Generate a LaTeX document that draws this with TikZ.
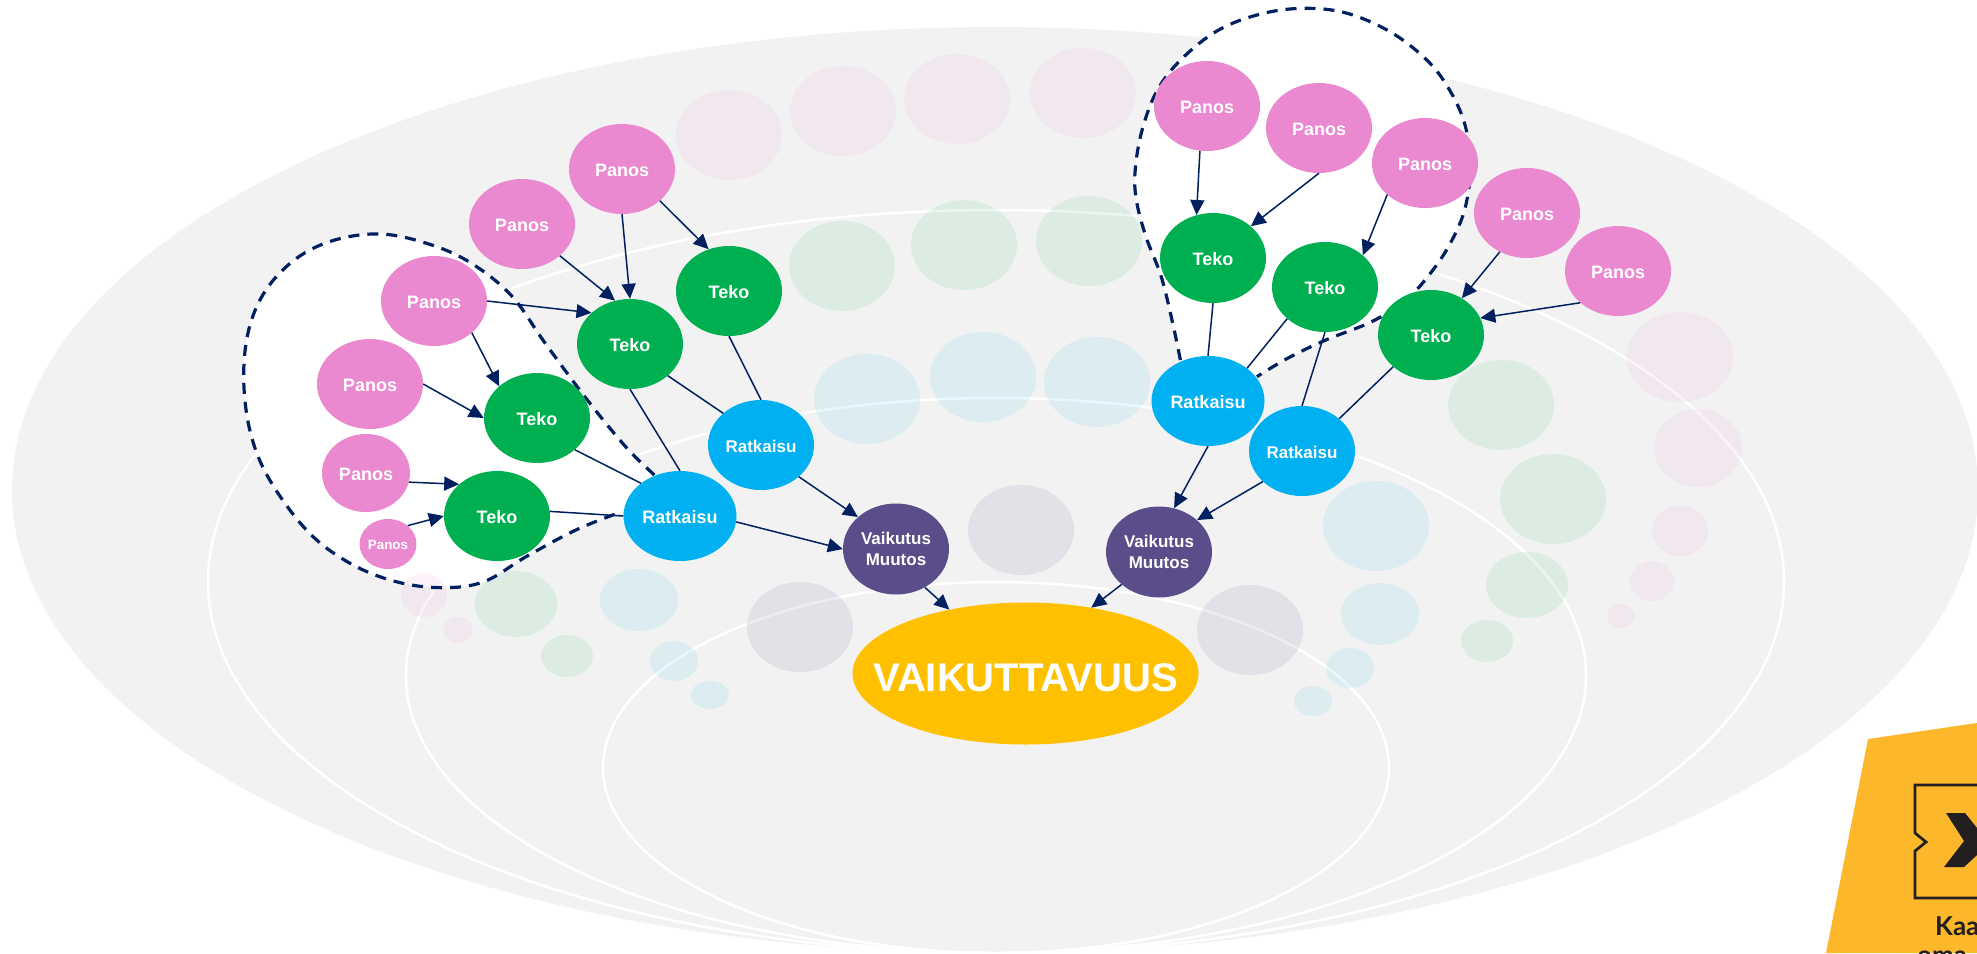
\documentclass[tikz,border=0pt]{standalone}
\usepackage{fontspec}
\setmainfont{Liberation Sans}
\newfontfamily\logofont{Lato}
\usetikzlibrary{arrows.meta,shapes.geometric}
\definecolor{bggray}{HTML}{F2F2F2}
\definecolor{cpink}{HTML}{EA88D0}
\definecolor{cgreen}{HTML}{00B050}
\definecolor{cblue}{HTML}{00B0F0}
\definecolor{cpurple}{HTML}{5B4C8A}
\definecolor{cyellow}{HTML}{FFC000}
\definecolor{navy}{HTML}{002060}
\definecolor{logoyellow}{HTML}{FDB72A}
\definecolor{logodark}{HTML}{231F20}
\tikzset{
 dot/.style={ellipse,draw=none,inner sep=0pt,text=white,font=\bfseries\fontsize{18}{22}\selectfont,align=center,minimum width=106pt,minimum height=90pt},
 one/.style={text height=15pt,text depth=0pt},
 panos/.style={dot,one,fill=cpink},
 teko/.style={dot,one,fill=cgreen},
 ratk/.style={dot,one,fill=cblue,minimum width=113pt},
 ratkb/.style={dot,one,fill=cblue,font=\bfseries\fontsize{17}{20}\selectfont},
 vaik/.style={dot,fill=cpurple,minimum width=106pt,minimum height=91pt,font=\bfseries\fontsize{17}{21}\selectfont},
 arr/.style={navy,line width=1.5pt,-{Triangle[length=15pt,width=14pt]}},
 lnk/.style={navy,line width=1.5pt},
 ring/.style={white,line width=2.5pt},
 blob/.style={navy,line width=3.2pt,dash pattern=on 11pt off 8pt},
 fadepink/.style={fill=cpink,fill opacity=.1},
 fadegreen/.style={fill=cgreen,fill opacity=.09},
 fadeblue/.style={fill=cblue,fill opacity=.09},
 fadepurple/.style={fill=cpurple,fill opacity=.1},
}
\def\blobL{plot[smooth,tension=.6] coordinates {(1135,765)(1060,680)(960,540)(850,370)(760,225)(650,125)(540,70)(420,42)(300,60)(200,115)(120,210)(75,330)(62,480)(80,640)(130,780)(230,935)(340,1030)(460,1085)(580,1103)(690,1085)(800,1010)(930,930)(1050,875)}}
\def\blobR{plot[smooth,tension=.6] coordinates {(210,1080)(190,970)(160,830)(120,710)(95,600)(92,510)(110,390)(150,270)(215,175)(310,90)(420,42)(530,25)(640,38)(750,90)(840,165)(900,245)(950,360)(968,490)(955,620)(920,720)(870,810)(800,900)(710,965)(590,1020)(490,1075)(410,1130)}}
\begin{document}
\begin{tikzpicture}[x=1pt,y=-1pt]
\path[use as bounding box,fill=white] (0,0) rectangle (1977,953);
% background
\fill[bggray] (995,490) ellipse [x radius=983pt,y radius=463pt];
\draw[ring] (996,581.5) ellipse [x radius=788pt,y radius=371.5pt];
\draw[ring] (996,675.5) ellipse [x radius=590pt,y radius=277.5pt];
\draw[ring] (996,767.5) ellipse [x radius=393pt,y radius=185.5pt];
% white blobs
\begin{scope}[shift={(220,220)},x=.38266pt,y=-.33333pt]
\fill[white] \blobL -- cycle;
\end{scope}
\begin{scope}[shift={(1100,0)},x=.38266pt,y=-.33333pt]
\fill[white] \blobR -- cycle;
\end{scope}
% faded ellipses
\foreach \px/\py/\rx/\ry in {729/135/53/45,843/111/53/45,957/99/53/45,1083/93/53/45,1680/357/53/45,1698/448/44/39,1680/531/28/25,1652/581/22/20,1621/616/14/12,424/595/23/22,458/630/15/13}
 \path[fadepink] (\px,\py) ellipse [x radius=\rx pt,y radius=\ry pt];
\foreach \px/\py/\rx/\ry in {842/266/53/45,964/245/53/45,1089/241/53/45,1501/405/53/45,1553/499/53/45,1527/585/41/33,1487/641/26/21,516/604/41/33,567/656/26/21}
 \path[fadegreen] (\px,\py) ellipse [x radius=\rx pt,y radius=\ry pt];
\foreach \px/\py/\rx/\ry in {867/399/53/45,983/377/53/45,1097/382/53/45,1376/526/53/45,1380/614/39/31,1350/668/24/20,1313/701/19/15,639/600/39/31,674/661/24/20,710/695/19/14}
 \path[fadeblue] (\px,\py) ellipse [x radius=\rx pt,y radius=\ry pt];
\foreach \px/\py/\rx/\ry in {1021/530/53/45,800/627/53/45,1250/630/53/45}
 \path[fadepurple] (\px,\py) ellipse [x radius=\rx pt,y radius=\ry pt];
% dashed outlines
\begin{scope}[shift={(220,220)},x=.38266pt,y=-.33333pt]
\draw[blob] \blobL;
\end{scope}
\begin{scope}[shift={(1100,0)},x=.38266pt,y=-.33333pt]
\draw[blob] \blobR;
\end{scope}
% left nodes
\node[panos] (pa) at (434,301) {Panos};
\node[panos] (pb) at (370,384) {Panos};
\node[panos,minimum width=88pt,minimum height=78pt] (pc) at (366,473) {Panos};
\node[panos,minimum width=57pt,minimum height=50pt,text height=11pt,font=\bfseries\fontsize{13.4}{16}\selectfont] (pd) at (388,544) {Panos};
\node[panos] (pe) at (522,224) {Panos};
\node[panos] (pf) at (622,169) {Panos};
\node[teko] (ta) at (537,418) {Teko};
\node[teko] (tb) at (497,516) {Teko};
\node[teko] (tc) at (630,344) {Teko};
\node[teko] (td) at (729,291) {Teko};
\node[ratk] (ra) at (680,516) {Ratkaisu};
\node[ratkb] (rb) at (761,445) {Ratkaisu};
\node[vaik] (va) at (896,549) {Vaikutus\\Muutos};
% right nodes
\node[panos] (qa) at (1207,106) {Panos};
\node[panos] (qb) at (1319,128) {Panos};
\node[panos] (qc) at (1425,163) {Panos};
\node[panos] (qd) at (1527,213) {Panos};
\node[panos] (qe) at (1618,271) {Panos};
\node[teko] (ua) at (1213,258) {Teko};
\node[teko] (ub) at (1325,287) {Teko};
\node[teko] (uc) at (1431,335) {Teko};
\node[ratk] (sa) at (1208,401) {Ratkaisu};
\node[ratkb] (sb) at (1302,451) {Ratkaisu};
\node[vaik] (vb) at (1159,552) {Vaikutus\\Muutos};
\node[ellipse,fill=cyellow,inner sep=0pt,minimum width=346pt,minimum height=142pt,text=white,text height=36pt,text depth=0pt,font=\bfseries\fontsize{40}{44}\selectfont] (goal) at (1025.5,673.5) {\makebox[0pt][c]{VAIKUTTAVUUS}};
% left connectors
\draw[arr] (pa.0) -- (tc.141);
\draw[arr] (pa.320) -- (ta.140);
\draw[arr] (pb.0) -- (ta.180);
\draw[arr] (pc.-12) -- (tb.140);
\draw[arr] (pd.43) -- (tb.180);
\draw[arr] (pe.320) -- (tc.109);
\draw[arr] (pf.270) -- (tc.90);
\draw[arr] (pf.320) -- (td.116);
\draw[lnk] (ta.320) -- (ra.140);
\draw[lnk] (tb.5) -- (ra.180);
\draw[lnk] (tc.270) -- (ra.90);
\draw[lnk] (tc.320) -- (rb.140);
\draw[lnk] (td.270) -- (rb.90);
\draw[arr] (ra.-6) -- (va.180);
\draw[arr] (rb.320) -- (va.140);
\draw[arr] (va.307) -- (goal.140);
% right connectors
\draw[arr] (qa.261) -- (ua.111);
\draw[arr] (qb.270) -- (ua.40);
\draw[arr] (qc.220) -- (ub.40);
\draw[arr] (qd.235) -- (uc.50);
\draw[arr] (qe.220) -- (uc.19);
\draw[lnk] (ua.270) -- (sa.90);
\draw[lnk] (ub.220) -- (sa.40);
\draw[lnk] (ub.270) -- (sb.90);
\draw[lnk] (uc.220) -- (sb.41);
\draw[arr] (sa.270) -- (vb.71);
\draw[arr] (sb.218) -- (vb.40);
\draw[arr] (vb.221) -- (goal.45);
% logo
\fill[logoyellow] (1868,739) -- (1977,723) -- (1977,953) -- (1826,953) -- cycle;
\draw[logodark,line width=2.7pt] (1977,785) -- (1915,785) -- (1915,833) -- (1926,842) -- (1915,851) -- (1915,898) -- (1977,898);
\fill[logodark] (1946,813) -- (1965,813) -- (1977,828) -- (1977,855) -- (1964,867) -- (1944,867) -- (1964,841) -- cycle;
\node[anchor=base west,inner sep=0pt,text=logodark,font=\logofont\bfseries\fontsize{26}{30}\selectfont] (kaa) at (1935,935) {Kaa};
\node[anchor=base west,inner sep=0pt,text=logodark,font=\logofont\bfseries\fontsize{26}{30}\selectfont] (oma) at (1917,964) {oma};
\end{tikzpicture}
\end{document}
